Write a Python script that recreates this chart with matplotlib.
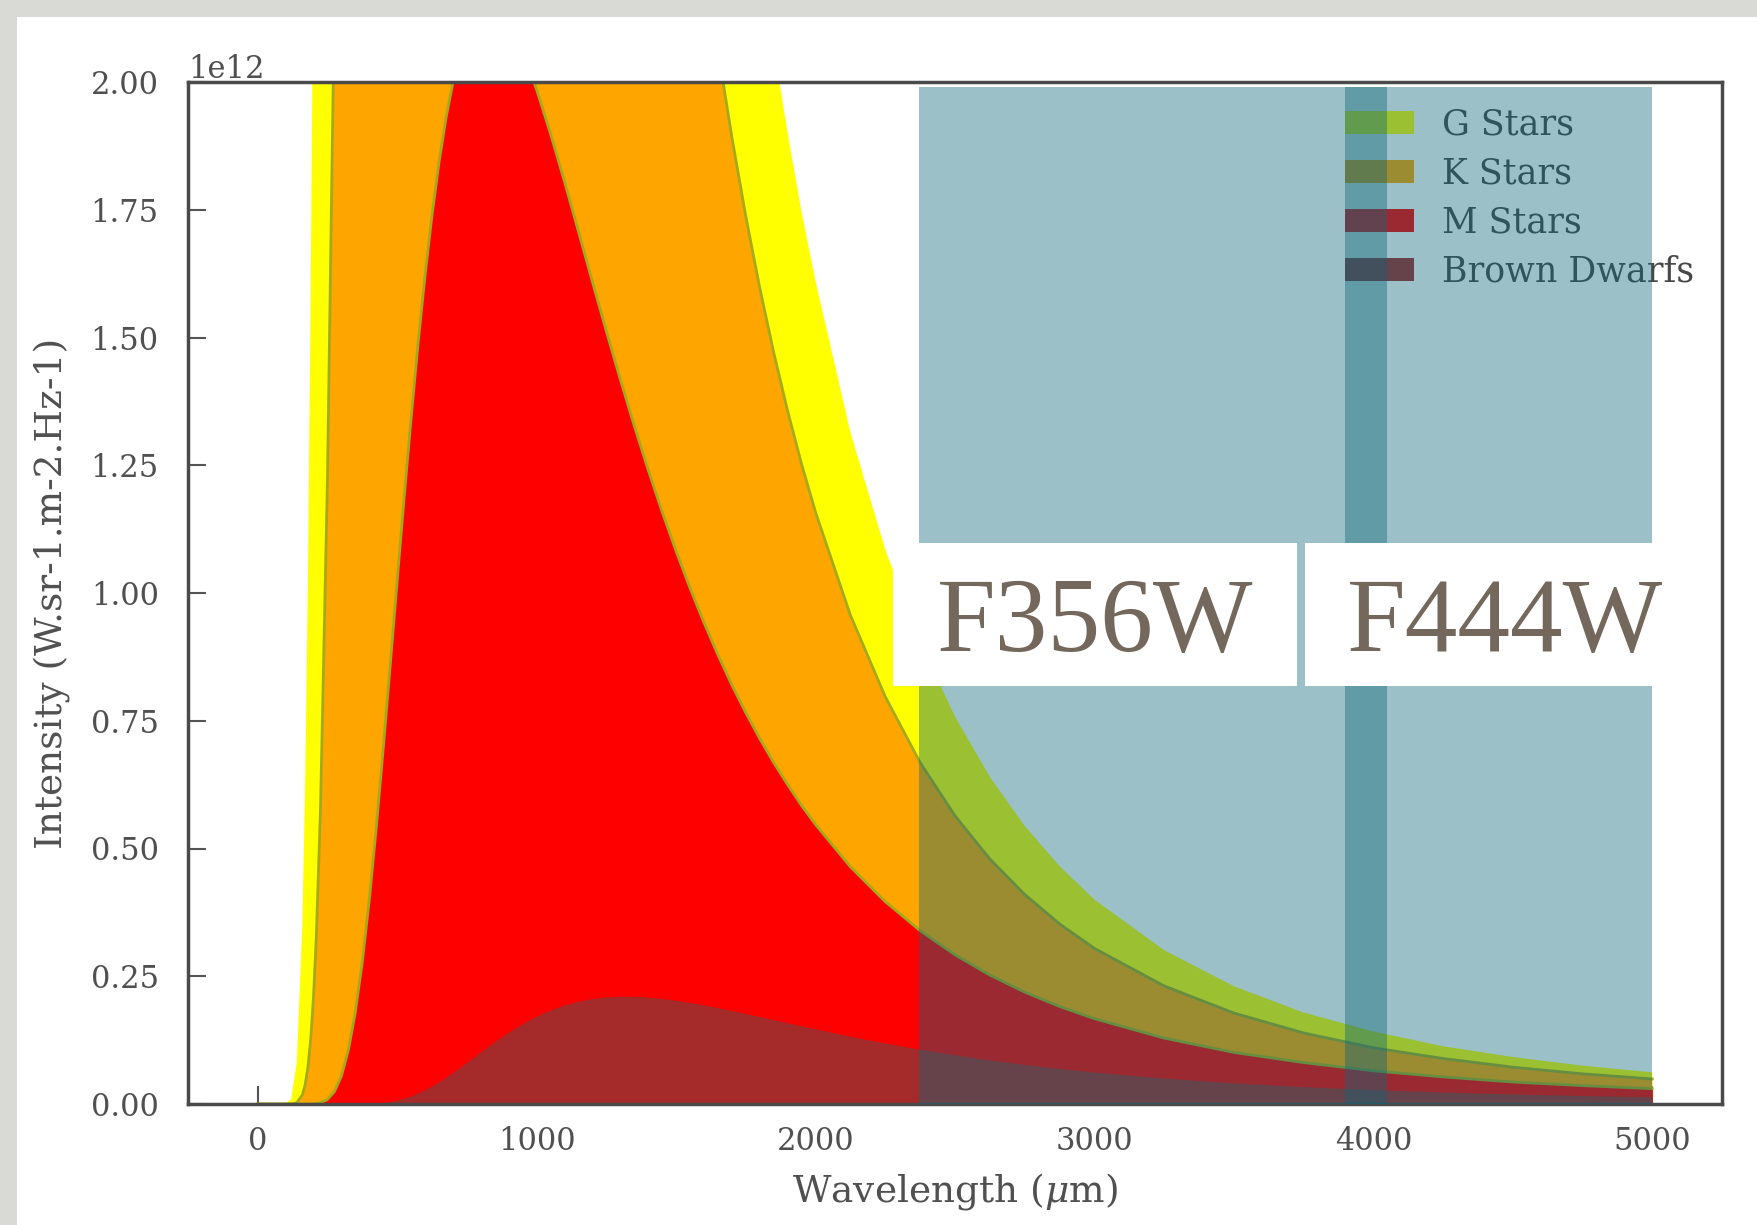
import numpy as np
import matplotlib
matplotlib.use('Agg')
from matplotlib import pyplot as plt
from matplotlib.patches import Rectangle

# Data (intensity in units of 1e12)
wavelength = [0, 100, 120, 140, 160, 170, 180, 190, 200, 210, 225, 250, 275, 300,
              325, 350, 375, 400, 425, 450, 475, 500, 525, 550, 575, 600, 625, 650, 675, 700,
              750, 800, 850, 900,
              950, 1000, 1050, 1100, 1150, 1200, 1250, 1300, 1350, 1400, 1450, 1500,
              1550, 1600, 1650, 1700, 1750, 1800, 1850, 1900, 1950, 2000,
              2125, 2250, 2375, 2500, 2625, 2750, 2875,
              3000, 3250, 3500, 3750, 4000, 4250, 4500, 4750, 5000]

g_stars = [0, 0.0005, 0.010, 0.081, 0.351, 0.627, 1.03, 1.588, 2.31, 3.203, 4.85, 8.33, 12.35, 16.56,
           20.5, 24.02, 26.9, 29.04, 30.6, 31.46, 31.8, 31.76, 31.3, 30.63, 29.7, 28.67, 27.5, 26.32, 25.1, 23.82,
           21.39, 19.09, 17.0, 15.10,
           13.41, 11.91, 10.59, 9.43, 8.40, 7.51, 6.717, 6.02, 5.412, 4.87, 4.396, 3.97,
           3.600, 3.27, 2.972, 2.71, 2.471, 2.26, 2.070, 1.90, 1.745, 1.61,
           1.3145, 1.085, 0.9033, 0.758, 0.640, 0.544, 0.4655,
           0.400, 0.301, 0.2305, 0.179, 0.142, 0.113, 0.092, 0.075, 0.062]

k_stars = [0, 0, 0.0002, 0.0026, 0.0176, 0.0374, 0.072, 0.1273, 0.210, 0.3263, 0.576, 1.223, 2.161, 3.346,
           4.69, 6.095, 7.46, 8.74, 9.86, 10.80, 11.55, 12.10, 12.49, 12.71, 12.79, 12.76, 12.63, 12.41, 12.14, 11.81,
           11.05, 10.24, 9.41, 8.60,
           7.82, 7.10, 6.437, 5.83, 5.282, 4.79, 4.339, 3.94, 3.576, 3.25, 2.961, 2.70,
           2.465, 2.253, 2.063, 1.892, 1.737, 1.597, 1.4705, 1.356, 1.2519, 1.158,
           0.9565, 0.797, 0.6682, 0.564, 0.4795, 0.410, 0.3524,
           0.3045, 0.231, 0.178, 0.139, 0.110, 0.089, 0.072, 0.059, 0.049]

m_stars = [0, 0, 0, 0, 0, 0, 0.0001, 0.0002, 0.0004, 0.0009, 0.0024, 0.0088, 0.0244, 0.0548,
           0.1055, 0.180, 0.2786, 0.400, 0.541, 0.696, 0.8588, 1.024, 1.1875, 1.343, 1.4893, 1.622, 1.7401, 1.843, 1.9295, 2.000,
           2.099, 2.145, 2.147, 2.116,
           2.0595, 1.985, 1.8985, 1.805, 1.7073, 1.609, 1.5122, 1.418, 1.3273, 1.241, 1.159, 1.082,
           1.0096, 0.942, 0.879, 0.820, 0.7658, 0.715, 0.6681, 0.625, 0.584, 0.547,
           0.4642, 0.396, 0.3393, 0.292, 0.2523, 0.219, 0.1908,
           0.167, 0.129, 0.101, 0.081, 0.065, 0.053, 0.043, 0.036, 0.030]

brown_dwarfs = [0, 0, 0, 0, 0, 0, 0, 0, 0, 0, 0, 0, 0, 0,
                0.0001, 0.0002, 0.0004, 0.0009, 0.0018, 0.0031, 0.0052, 0.0080, 0.0116, 0.0162, 0.0218, 0.0283,
                0.0356, 0.0439, 0.0527, 0.0621,
                0.0819, 0.1024, 0.1223, 0.1410,
                0.1578, 0.1723, 0.1844, 0.1941, 0.2014, 0.2065, 0.2096, 0.2110, 0.2108, 0.2092, 0.2066, 0.2030,
                0.1987, 0.1939, 0.1886, 0.1829, 0.1771, 0.1711, 0.1651, 0.1590, 0.1530, 0.1471,
                0.1327, 0.1194, 0.1072, 0.0962, 0.0862, 0.0774, 0.0695,
                0.0625, 0.0507, 0.0414, 0.0340, 0.0282, 0.0235, 0.0197, 0.0166, 0.0141]

series_names = ['G Stars', 'K Stars', 'M Stars', 'Brown Dwarfs']
series_colors = ['yellow', 'orange', 'red', 'brown']

filter_names = ['F356W', 'F444W']
filter_lo = [2370, 3900]
filter_hi = [4050, 5000]

x_ticks = [0, 1000, 2000, 3000, 4000, 5000]
y_ticks = [0, 0.25, 0.5, 0.75, 1.0, 1.25, 1.5, 1.75, 2.0]

# Figure
W, H = 1757, 1225
plt.rcParams['font.family'] = ['DejaVu Serif']
plt.rcParams['mathtext.fontset'] = 'dejavuserif'
fig = plt.figure(figsize=(W / 100, H / 100), dpi=100)
fig.patch.set_facecolor('#d9d9d5')
fig.add_artist(Rectangle((17 / W, 0), 1 - 17 / W, 1 - 17 / H, transform=fig.transFigure,
                         facecolor='white', edgecolor='none', zorder=-1))

ax = fig.add_axes([188 / W, 1 - 1104 / H, (1722 - 188) / W, (1104 - 82) / H])
ax.set_axisbelow(True)

wl = np.array(wavelength)
all_series = [g_stars, k_stars, m_stars, brown_dwarfs]
for name, vals, col in zip(series_names, all_series, series_colors):
    ax.fill_between(wl, 0, np.array(vals) * 1e12, color=col, lw=0, label=name)

# thin olive outlines on K and M curves
for vals in [k_stars, m_stars]:
    ax.plot(wl, np.array(vals) * 1e12, color='#a3ab1c', lw=2, zorder=1.5)

for lo, hi in zip(filter_lo, filter_hi):
    ax.axvspan(lo, hi, ymin=0, ymax=0.995, color='#0e6678', alpha=0.41, lw=0, zorder=6)

ax.set_ylim(0, 2e12)
ax.set_xlim(-250, 5250)
ax.set_xticks(x_ticks)
ax.set_yticks([v * 1e12 for v in y_ticks])

txt = '#505050'
ax.tick_params(direction='in', length=13, width=1.5, color='#555555',
               labelsize=22, labelcolor=txt, top=False, right=False)
ax.tick_params(axis='y', pad=21)
ax.tick_params(axis='x', pad=16)
ax.yaxis.get_offset_text().set_fontsize(22)
ax.yaxis.get_offset_text().set_color(txt)
for sp in ax.spines.values():
    sp.set_linewidth(2.5)
    sp.set_color('#4a4a4a')

ax.set_xlabel(r'Wavelength ($\mu$m)', fontsize=27, color=txt, labelpad=10)
ax.set_ylabel('Intensity (W.sr-1.m-2.Hz-1)', fontsize=27, color=txt, labelpad=14)

leg = ax.legend(loc='upper left', bbox_to_anchor=(0.754, 0.975), frameon=False, fontsize=25,
                handlelength=2.0, handleheight=0.65, handletextpad=0.8, labelspacing=0.43,
                borderpad=0, borderaxespad=0)
for t in leg.get_texts():
    t.set_color('#484848')

# filter labels on white boxes
box_left = [893, 1305]
box_right = [1297, 1659]
text_left = [937, 1347]
for name, bl, br, tl in zip(filter_names, box_left, box_right, text_left):
    fig.add_artist(Rectangle((bl / W, 1 - 686 / H), (br - bl) / W, (686 - 543) / H,
                             transform=fig.transFigure, facecolor='white', edgecolor='none',
                             zorder=20))
    fig.text(tl / W, 1 - 651 / H, name, fontsize=76, family='Liberation Serif',
             color='#74685c', ha='left', va='baseline', zorder=21)

fig.savefig('out.png', dpi=100, facecolor=fig.get_facecolor())
